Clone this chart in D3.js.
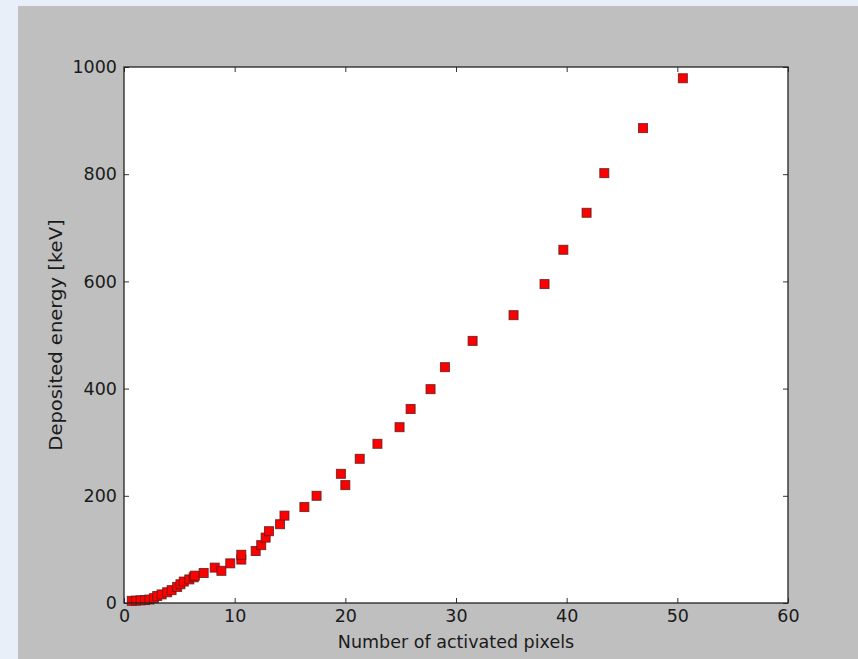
<!DOCTYPE html>
<html>
<head>
<meta charset="utf-8">
<script src="https://cdn.jsdelivr.net/npm/d3@7"></script>
<style>
  html, body { margin: 0; padding: 0; background: #e9eff9; }
  svg { display: block; }
  text { font-family: "DejaVu Sans", sans-serif; fill: #1a1a1a; }
</style>
</head>
<body>
<script>
// Number of activated pixels per event
const pixels = [0.7, 1.1, 1.5, 1.9, 2.3, 2.7, 3.0, 3.4, 3.9, 4.3, 4.8, 5.1, 5.4, 5.9, 6.3, 6.4,
  7.2, 8.2, 8.8, 9.6, 10.6, 10.6, 11.9, 12.4, 12.8, 13.1, 14.1, 14.5, 16.3, 17.4, 19.6, 20.0,
  21.3, 22.9, 24.9, 25.9, 27.7, 29.0, 31.5, 35.2, 38.0, 39.7, 41.8, 43.4, 46.9, 50.5];
// Deposited energy per event [keV]
const energy = [4, 4.5, 5, 5.5, 6.5, 9, 13, 16, 20, 24, 30, 35, 40, 44, 48, 51,
  56, 66, 60, 74, 81, 90, 97, 108, 122, 134, 147, 163, 179, 200, 241, 220,
  269, 297, 328, 362, 399, 440, 489, 537, 595, 659, 728, 802, 886, 979];

const xTicks = [0, 10, 20, 30, 40, 50, 60];
const yTicks = [0, 200, 400, 600, 800, 1000];
const xLabel = "Number of activated pixels";
const yLabel = "Deposited energy [keV]";

const W = 858, H = 659;
const frame = { left: 124, top: 67, right: 788, bottom: 603 };

const svg = d3.select("body").append("svg").attr("width", W).attr("height", H);

// figure background
svg.append("rect").attr("x", 18).attr("y", 6).attr("width", W - 18).attr("height", H - 6)
  .attr("fill", "#bfbfbf");

const x = d3.scaleLinear().domain([0, 60]).range([frame.left, frame.right]);
const y = d3.scaleLinear().domain([0, 1000]).range([frame.bottom, frame.top]);

// axes area
svg.append("rect")
  .attr("x", frame.left).attr("y", frame.top)
  .attr("width", frame.right - frame.left).attr("height", frame.bottom - frame.top)
  .attr("fill", "#ffffff");

const tickLen = 5;
const fontSize = 17.5;

// inward ticks on all four sides
function styleAxis(g) {
  g.select(".domain").remove();
  g.selectAll(".tick line").attr("stroke", "#333").attr("stroke-width", 1);
  g.selectAll(".tick text").attr("font-size", fontSize).attr("fill", "#1a1a1a")
    .attr("font-family", "DejaVu Sans, sans-serif");
}

svg.append("g").attr("transform", `translate(0,${frame.bottom})`)
  .call(d3.axisBottom(x).tickValues(xTicks).tickFormat(d3.format("d"))
    .tickSizeInner(-tickLen).tickSizeOuter(0).tickPadding(5))
  .call(styleAxis)
  .call(g => g.selectAll(".tick text").attr("dy", "0.8em"));

svg.append("g").attr("transform", `translate(0,${frame.top})`)
  .call(d3.axisTop(x).tickValues(xTicks).tickFormat("").tickSizeInner(-tickLen).tickSizeOuter(0))
  .call(styleAxis);

svg.append("g").attr("transform", `translate(${frame.left},0)`)
  .call(d3.axisLeft(y).tickValues(yTicks).tickFormat(d3.format("d"))
    .tickSizeInner(-tickLen).tickSizeOuter(0).tickPadding(7))
  .call(styleAxis);

svg.append("g").attr("transform", `translate(${frame.right},0)`)
  .call(d3.axisRight(y).tickValues(yTicks).tickFormat("").tickSizeInner(-tickLen).tickSizeOuter(0))
  .call(styleAxis);

// square markers
const s = 9;
svg.append("g").selectAll("rect").data(pixels.map((p, i) => [p, energy[i]]))
  .join("rect")
  .attr("x", d => x(d[0]) - s / 2)
  .attr("y", d => y(d[1]) - s / 2)
  .attr("width", s).attr("height", s)
  .attr("fill", "#ff0000")
  .attr("stroke", "#5a1a1a").attr("stroke-opacity", 0.8).attr("stroke-width", 1);

// frame
svg.append("rect")
  .attr("x", frame.left).attr("y", frame.top)
  .attr("width", frame.right - frame.left).attr("height", frame.bottom - frame.top)
  .attr("fill", "none").attr("stroke", "#222").attr("stroke-width", 1.3);

// axis titles
svg.append("text")
  .attr("x", (frame.left + frame.right) / 2).attr("y", 648)
  .attr("text-anchor", "middle").attr("font-size", fontSize)
  .text(xLabel);

svg.append("text")
  .attr("transform", `translate(62,${(frame.top + frame.bottom) / 2}) rotate(-90) scale(1.12,1)`)
  .attr("text-anchor", "middle").attr("font-size", fontSize)
  .text(yLabel);
</script>
</body>
</html>
